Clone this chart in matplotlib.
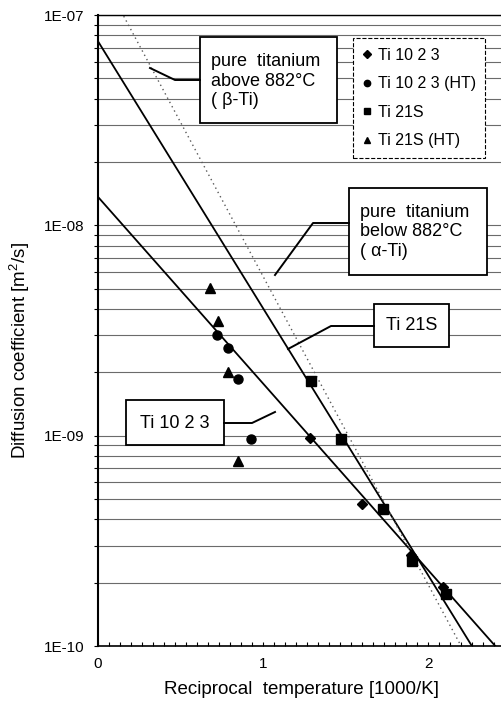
import numpy as np
import matplotlib
matplotlib.use('Agg')
import matplotlib.pyplot as plt
from matplotlib.ticker import FixedLocator, NullFormatter
from matplotlib.patches import Rectangle
from matplotlib.lines import Line2D

plt.rcParams['font.family'] = ['Liberation Sans', 'DejaVu Sans']
plt.rcParams['mathtext.default'] = 'regular'

# ---------------- data ----------------
ti1023_x = [1.285, 1.600, 1.897, 2.091]
ti1023_D = [9.75e-10, 4.73e-10, 2.70e-10, 1.90e-10]

ti1023ht_x = [0.721, 0.788, 0.848, 0.927]
ti1023ht_D = [3.00e-9, 2.61e-9, 1.86e-9, 9.64e-10]

ti21s_x = [1.291, 1.473, 1.727, 1.903, 2.109]
ti21s_D = [1.82e-9, 9.64e-10, 4.48e-10, 2.53e-10, 1.77e-10]

ti21sht_x = [0.679, 0.727, 0.788, 0.848]
ti21sht_D = [5.03e-9, 3.51e-9, 2.00e-9, 7.56e-10]

# Arrhenius fit lines: D = D0 * 10**(-k * x)
line_names = ['Ti 10 2 3', 'Ti 21S', 'pure titanium']
line_D0 = [1.365e-8, 7.5e-8, 1.67e-7]
line_k = [0.887, 1.269, 1.465]

x_ticks = [0, 1, 2]
x_tick_labels = ['0', '1', '2']
y_ticks = [1e-10, 1e-9, 1e-8, 1e-7]
y_tick_labels = ['1E-10', '1E-09', '1E-08', '1E-07']

legend_labels = ['Ti 10 2 3', 'Ti 10 2 3 (HT)', 'Ti 21S', 'Ti 21S (HT)']

# ---------------- figure ----------------
W, H = 502, 705
fig = plt.figure(figsize=(W / 100, H / 100), dpi=100)
ax = fig.add_axes([98 / W, 1 - 646 / H, 404 / W, 631 / H])
ax.set_yscale('log')
ax.set_xlim(0, 2.448)
ax.set_ylim(1e-10, 1e-7)

# horizontal grid at every decade subdivision
minor_y = [m * 10.0 ** e for e in range(-10, -7) for m in range(2, 10)]
for v in minor_y + y_ticks:
    ax.axhline(v, color='0.42', lw=0.8, zorder=0)

# fit lines
xs = np.linspace(0, 2.448, 300)
styles = [dict(color='black', lw=1.3, ls='-'),
          dict(color='black', lw=1.3, ls='-'),
          dict(color='0.35', lw=1.0, ls=(0, (1, 2.5)))]
for D0, k, st in zip(line_D0, line_k, styles):
    ax.plot(xs, D0 * 10 ** (-k * xs), zorder=2, **st)

# data points
ax.plot(ti1023_x, ti1023_D, 'D', color='black', ms=5.5, zorder=3, label=legend_labels[0])
ax.plot(ti1023ht_x, ti1023ht_D, 'o', color='black', ms=6.5, zorder=3, label=legend_labels[1])
ax.plot(ti21s_x, ti21s_D, 's', color='black', ms=6.5, zorder=3, label=legend_labels[2])
ax.plot(ti21sht_x, ti21sht_D, '^', color='black', ms=7, zorder=3, label=legend_labels[3])

# ticks
ax.yaxis.set_major_locator(FixedLocator(y_ticks))
ax.set_yticklabels(y_tick_labels)
ax.yaxis.set_minor_locator(FixedLocator(minor_y))
ax.yaxis.set_minor_formatter(NullFormatter())
ax.tick_params(axis='y', which='both', direction='out', length=3, width=0.8,
               labelsize=11, pad=7)
ax.set_xticks(x_ticks)
ax.set_xticklabels(x_tick_labels)
ax.xaxis.set_minor_locator(FixedLocator(np.arange(0, 2.45, 1 / 15)))
ax.tick_params(axis='x', which='both', direction='in', length=3, width=0.8,
               labelsize=11, pad=8)

ax.spines['right'].set_visible(False)
ax.spines['left'].set_linewidth(1.5)
ax.spines['bottom'].set_linewidth(1.2)
ax.spines['top'].set_linewidth(1.0)

# axis labels
fig.text(20 / W, 1 - 350 / H, 'Diffusion coefficient [m$^2$/s]', rotation=90,
         ha='center', va='center', fontsize=13.5)
fig.text(302 / W, 1 - 690 / H, 'Reciprocal  temperature [1000/K]',
         ha='center', va='center', fontsize=13.5)

# legend
leg = ax.legend(loc='upper left', bbox_to_anchor=(353 / W, 1 - 38 / H),
                bbox_transform=fig.transFigure, borderaxespad=0, fancybox=False,
                fontsize=11.5, markerscale=0.7, handlelength=0.6, handletextpad=0.35,
                labelspacing=0.85, borderpad=0.6, framealpha=1)
leg.get_frame().set_edgecolor('black')
leg.get_frame().set_linewidth(0.8)
leg.get_frame().set_linestyle('--')


def P(px, py):
    return px / W, 1 - py / H


def box(x0, y0, x1, y1):
    ax.add_patch(Rectangle(P(x0, y1), (x1 - x0) / W, (y1 - y0) / H,
                           transform=fig.transFigure, fc='white', ec='black',
                           lw=1.3, zorder=6, clip_on=False))


def leader(pts):
    xx = [p[0] / W for p in pts]
    yy = [1 - p[1] / H for p in pts]
    ax.add_line(Line2D(xx, yy, transform=fig.transFigure, color='black',
                       lw=1.4, zorder=6, clip_on=False))


# beta box
box(200, 37, 337, 123)
leader([(200, 80), (175, 80), (150, 68)])
ax.text(*P(211, 81), 'pure  titanium\nabove 882°C\n( β-Ti)', transform=fig.transFigure,
        ha='left', va='center', fontsize=13, linespacing=1.18, zorder=7)

# alpha box
box(349, 188, 487, 275)
leader([(349, 223), (313, 223), (275, 275)])
ax.text(*P(360, 232), 'pure  titanium\nbelow 882°C\n( α-Ti)', transform=fig.transFigure,
        ha='left', va='center', fontsize=13, linespacing=1.18, zorder=7)

# Ti 21S box
box(374, 304, 449, 347)
leader([(374, 326), (331, 326), (288, 349)])
ax.text(*P(411.5, 326), 'Ti 21S', transform=fig.transFigure,
        ha='center', va='center', fontsize=13, zorder=7)

# Ti 10 2 3 box
box(126, 400, 224, 445)
leader([(224, 423), (252, 423), (275, 412)])
ax.text(*P(175, 423), 'Ti 10 2 3', transform=fig.transFigure,
        ha='center', va='center', fontsize=13, zorder=7)

fig.savefig('out.png', dpi=100)
